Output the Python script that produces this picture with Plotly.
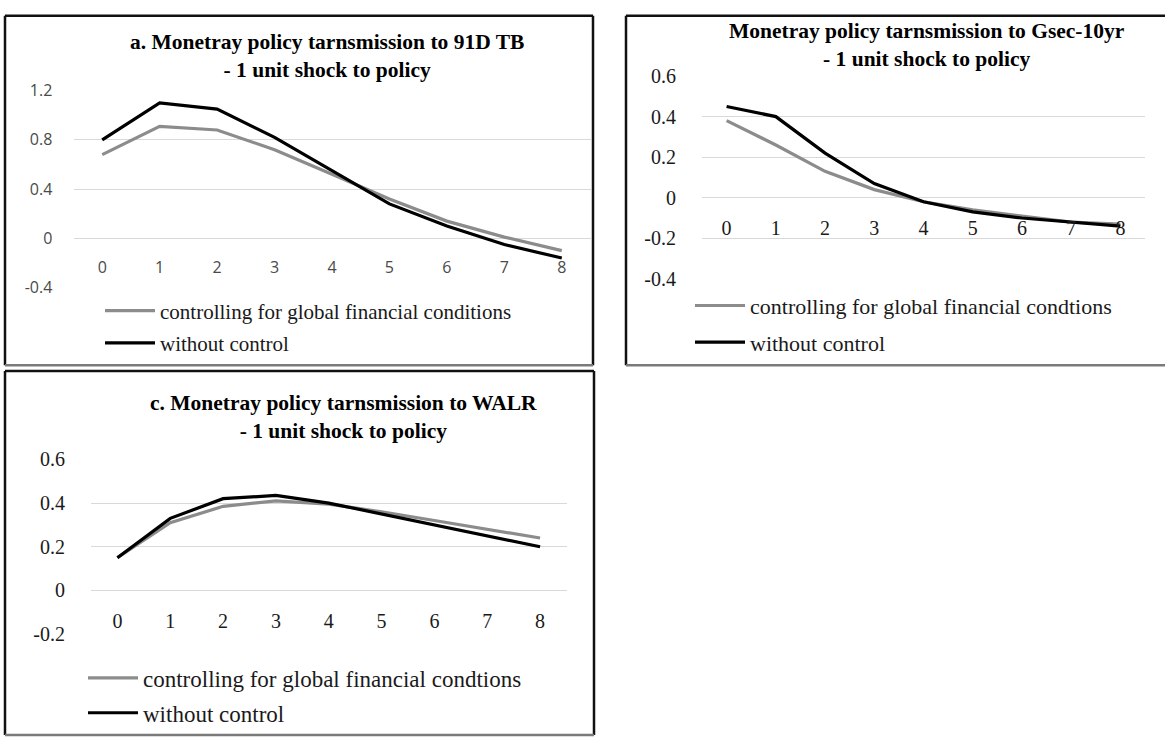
import plotly.graph_objects as go

# ---------------- data ----------------
horizons = [0, 1, 2, 3, 4, 5, 6, 7, 8]
x_ticktext = ["0", "1", "2", "3", "4", "5", "6", "7", "8"]

series_names_a = ["controlling for global financial conditions", "without control"]
series_names_bc = ["controlling for global financial condtions", "without control"]

tb91_control = [0.68, 0.91, 0.88, 0.72, 0.52, 0.32, 0.14, 0.01, -0.10]
tb91_nocontrol = [0.80, 1.10, 1.05, 0.82, 0.55, 0.28, 0.10, -0.05, -0.16]

gsec_control = [0.38, 0.26, 0.13, 0.04, -0.02, -0.06, -0.09, -0.12, -0.13]
gsec_nocontrol = [0.45, 0.40, 0.22, 0.07, -0.02, -0.07, -0.10, -0.12, -0.14]

walr_control = [0.15, 0.31, 0.385, 0.41, 0.395, 0.36, 0.32, 0.28, 0.24]
walr_nocontrol = [0.15, 0.33, 0.42, 0.435, 0.40, 0.35, 0.30, 0.25, 0.20]

y_ticks_a = [-0.4, 0, 0.4, 0.8, 1.2]
y_ticktext_a = ["-0.4", "0", "0.4", "0.8", "1.2"]
y_ticks_b = [-0.4, -0.2, 0, 0.2, 0.4, 0.6]
y_ticktext_b = ["-0.4", "-0.2", "0", "0.2", "0.4", "0.6"]
y_ticks_c = [-0.2, 0, 0.2, 0.4, 0.6]
y_ticktext_c = ["-0.2", "0", "0.2", "0.4", "0.6"]

title_a = "a. Monetray policy tarnsmission to 91D TB<br>- 1 unit shock to policy"
title_b = "Monetray policy tarnsmission to Gsec-10yr<br>- 1 unit shock to policy"
title_c = "c. Monetray policy tarnsmission to WALR<br>- 1 unit shock to policy"

# ---------------- layout helpers ----------------
W, H = 1165, 747
GREY = "#8c8c8c"
BLACK = "#000000"
SERIF = "Liberation Serif, Times New Roman, serif"
SANS = "Open Sans, Liberation Sans, sans-serif"


def fx(px):
    return px / W


def fy(py):
    return 1 - py / H


def zero_pos(dom, rng):
    return dom[0] + (0 - rng[0]) / (rng[1] - rng[0]) * (dom[1] - dom[0])


panels = {
    "a": dict(xdom=[fx(73.5), fx(590.5)], ydom=[fy(285), fy(82)], yr=[-0.4, 1.2]),
    "b": dict(xdom=[fx(702), fx(1145)], ydom=[fy(276), fy(67)], yr=[-0.4, 0.6]),
    "c": dict(xdom=[fx(91), fx(566.5)], ydom=[fy(642), fy(462)], yr=[-0.2, 0.6]),
}

fig = go.Figure()

traces = [
    (tb91_control, series_names_a[0], GREY, "x", "y", "legend", "a1"),
    (tb91_nocontrol, series_names_a[1], BLACK, "x", "y", "legend", "a2"),
    (gsec_control, series_names_bc[0], GREY, "x2", "y2", "legend2", "b1"),
    (gsec_nocontrol, series_names_bc[1], BLACK, "x2", "y2", "legend2", "b2"),
    (walr_control, series_names_bc[0], GREY, "x3", "y3", "legend3", "c1"),
    (walr_nocontrol, series_names_bc[1], BLACK, "x3", "y3", "legend3", "c2"),
]
for vals, name, col, xa, ya, lg, grp in traces:
    fig.add_trace(go.Scatter(x=horizons, y=vals, mode="lines", name=name,
                             line=dict(color=col, width=3.2), xaxis=xa, yaxis=ya,
                             legend=lg, legendgroup=grp))


def xaxis_cfg(p, font, ticklen):
    return dict(domain=p["xdom"], range=[-0.5, 8.5], anchor="free",
                position=zero_pos(p["ydom"], p["yr"]),
                tickvals=horizons, ticktext=x_ticktext, showgrid=False, zeroline=False,
                showline=False, ticks="outside", ticklen=ticklen, tickcolor="rgba(0,0,0,0)",
                tickfont=font, fixedrange=True)


def yaxis_cfg(p, tv, tt, font, ticklen, anchor):
    return dict(domain=p["ydom"], range=p["yr"], tickvals=tv, ticktext=tt, anchor=anchor,
                showgrid=True, gridcolor="#d9d9d9", gridwidth=1, zeroline=False,
                showline=False, ticks="outside", ticklen=ticklen, tickcolor="rgba(0,0,0,0)",
                tickfont=font, fixedrange=True)


font_a = dict(family=SANS, size=16, color="#4a4a4a")
font_bc = dict(family=SERIF, size=20, color="#1a1a1a")


def legend_cfg(xpx, ypx, size, gap):
    return dict(x=fx(xpx), y=fy(ypx), xanchor="left", yanchor="top", orientation="v",
                font=dict(family=SERIF, size=size, color="#1a1a1a"), tracegroupgap=gap,
                itemwidth=50, bgcolor="rgba(0,0,0,0)")


fig.update_layout(
    width=W, height=H, margin=dict(l=0, r=0, t=0, b=0),
    paper_bgcolor="white", plot_bgcolor="white",
    xaxis=xaxis_cfg(panels["a"], font_a, 14),
    yaxis=yaxis_cfg(panels["a"], y_ticks_a, y_ticktext_a, font_a, 17, "x"),
    xaxis2=xaxis_cfg(panels["b"], font_bc, 12),
    yaxis2=yaxis_cfg(panels["b"], y_ticks_b, y_ticktext_b, font_bc, 21, "x2"),
    xaxis3=xaxis_cfg(panels["c"], font_bc, 13),
    yaxis3=yaxis_cfg(panels["c"], y_ticks_c, y_ticktext_c, font_bc, 21, "x3"),
    legend=legend_cfg(100, 288, 21, 2),
    legend2=legend_cfg(690, 282, 22, 5),
    legend3=legend_cfg(83, 665, 23, 2),
    showlegend=True,
)

title_font = dict(family=SERIF, size=21.5, color="#000000")
for txt, cx, cy in [(title_a, 327, 46), (title_b, 927, 35), (title_c, 343, 418)]:
    fig.add_annotation(text="<b>" + txt.replace("<br>", "</b><br><b>") + "</b>",
                       xref="paper", yref="paper", x=fx(cx), y=fy(cy),
                       xanchor="center", yanchor="middle", showarrow=False,
                       font=title_font, align="center")

# panel frames: dark top/left/right edges, lighter bottom edge
frames = [(5, 5, 593, 365), (626, 5, 1172, 365), (5, 371, 594, 746)]
for (x0, y0, x1, y1) in frames:
    for (ax0, ay0, ax1, ay1) in [(x0, y0, x1, y0), (x0, y0, x0, y1), (x1, y0, x1, y1)]:
        fig.add_shape(type="line", xref="paper", yref="paper",
                      x0=fx(ax0), y0=fy(ay0), x1=fx(ax1), y1=fy(ay1),
                      line=dict(color="#111111", width=2.5), layer="above")
    fig.add_shape(type="line", xref="paper", yref="paper",
                  x0=fx(x0), y0=fy(y1), x1=fx(x1), y1=fy(y1),
                  line=dict(color="#7a7a7a", width=2.5), layer="above")

fig.write_html("out.html", config={"displayModeBar": False},
               post_script="document.body.style.margin='0';document.body.style.overflow='hidden';")
